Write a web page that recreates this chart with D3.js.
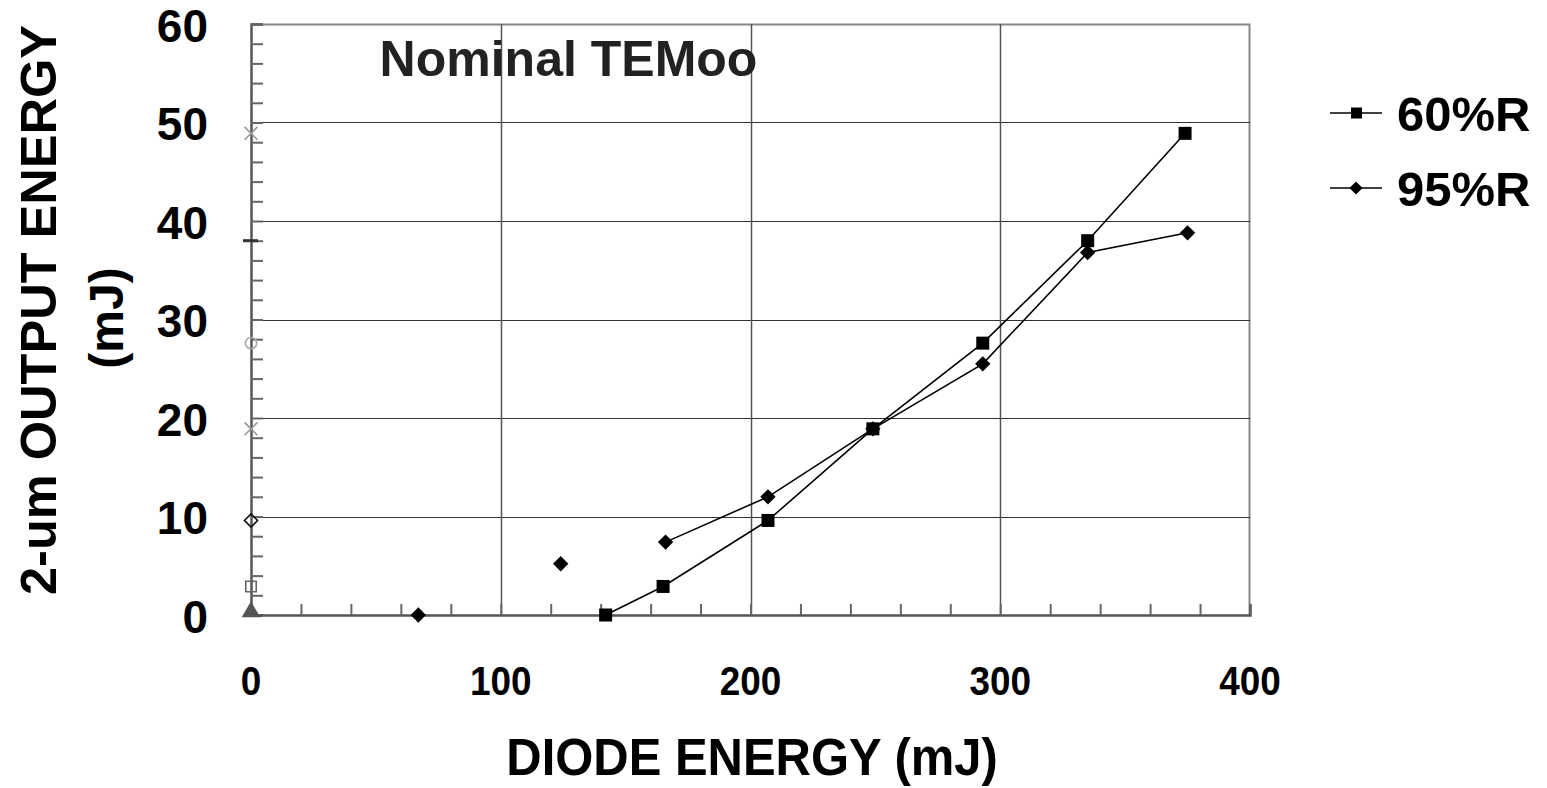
<!DOCTYPE html>
<html>
<head>
<meta charset="utf-8">
<script src="https://cdn.jsdelivr.net/npm/d3@7"></script>
<style>
  body { margin: 0; background: #fff; }
  text { font-family: "Liberation Sans", Arial, sans-serif; font-weight: bold; }
</style>
</head>
<body>
<div id="chart"></div>
<script>
// diode energy (mJ) and 2-um output energy (mJ)
var x60 = [142, 165, 207, 249, 293, 335, 374];
var y60 = [0, 2.9, 9.6, 18.9, 27.6, 38.0, 48.9];
// the 95% series is not joined over its first two points (null = break)
var x95 = [67, null, 124, null, 166, 207, 249, 293, 335, 375];
var y95 = [0, null, 5.2, null, 7.4, 12.0, 18.9, 25.5, 36.8, 38.8];
// stray markers sitting on the y axis (x = 0)
var axisY = [0, 2.9, 9.6, 18.9, 27.6, 38.0, 48.9];
var axisSym = ["triangle", "square", "diamond", "cross", "circle", "dash", "cross"];
var xTicks = [0, 100, 200, 300, 400];
var yTicks = [0, 10, 20, 30, 40, 50, 60];
var seriesNames = ["60%R", "95%R"];

var W = 1547, H = 788;
var margin = {top: 24, right: 297, bottom: 173, left: 251};
var width = W - margin.left - margin.right;
var height = H - margin.top - margin.bottom;

var x = d3.scaleLinear().domain([0, 400]).range([0, width]);
var y = d3.scaleLinear().domain([0, 60]).range([height, 0]);

var svg = d3.select("#chart").append("svg")
    .attr("width", W)
    .attr("height", H);
var g = svg.append("g")
    .attr("transform", "translate(" + margin.left + "," + margin.top + ")");

// frame top/right
g.append("path")
    .attr("d", "M0,0.5H" + (width - 0.5) + "V" + height)
    .attr("fill", "none").attr("stroke", "#888").attr("stroke-width", 2);

// gridlines
g.append("g").selectAll("line")
    .data(yTicks.slice(1, -1))
    .enter().append("line")
    .attr("x1", 0).attr("x2", width)
    .attr("y1", function (d) { return Math.round(y(d)) + 0.5; })
    .attr("y2", function (d) { return Math.round(y(d)) + 0.5; })
    .attr("stroke", "#333").attr("stroke-width", 1.2);
g.append("g").selectAll("line")
    .data(xTicks.slice(1, -1))
    .enter().append("line")
    .attr("y1", 0).attr("y2", height)
    .attr("x1", function (d) { return Math.round(x(d)) + 0.5; })
    .attr("x2", function (d) { return Math.round(x(d)) + 0.5; })
    .attr("stroke", "#555").attr("stroke-width", 1.5);

// axes with minor ticks pointing inside
var yMinor = d3.range(0, 61, 2);
var xMinor = d3.range(0, 401, 20);
var yAxis = g.append("g")
    .call(d3.axisRight(y).tickValues(yMinor).tickSize(12).tickFormat(""));
var xAxis = g.append("g")
    .attr("transform", "translate(0," + height + ")")
    .call(d3.axisTop(x).tickValues(xMinor).tickSize(11).tickFormat(""));
[yAxis, xAxis].forEach(function (a) {
  a.select(".domain").attr("stroke", "#555").attr("stroke-width", 2.5);
  a.selectAll(".tick line").attr("stroke", "#666").attr("stroke-width", 2);
});

// tick labels
g.append("g").selectAll("text")
    .data(yTicks)
    .enter().append("text")
    .attr("x", -43)
    .attr("y", function (d) { return y(d) + 1; })
    .attr("dy", "0.36em")
    .attr("text-anchor", "end")
    .attr("font-size", 46)
    .text(function (d) { return d; });
// narrow bold labels: squeeze horizontally
g.append("g").selectAll("text")
    .data(xTicks)
    .enter().append("text")
    .attr("transform", function (d) { return "translate(" + x(d) + "," + (height + 65) + ") scale(0.9,1)"; })
    .attr("dy", "0.36em")
    .attr("text-anchor", "middle")
    .attr("font-size", 41)
    .text(function (d) { return d; });

// axis titles
svg.append("text")
    .attr("transform", "translate(752,757) scale(0.96,1)")
    .attr("dy", "0.36em")
    .attr("text-anchor", "middle")
    .attr("font-size", 51)
    .text("DIODE ENERGY (mJ)");
svg.append("text")
    .attr("transform", "translate(38,310) rotate(-90)")
    .attr("dy", "0.36em")
    .attr("text-anchor", "middle")
    .attr("font-size", 50)
    .attr("textLength", 570)
    .attr("lengthAdjust", "spacingAndGlyphs")
    .text("2-um OUTPUT ENERGY");
svg.append("text")
    .attr("transform", "translate(106,318) rotate(-90)")
    .attr("dy", "0.36em")
    .attr("text-anchor", "middle")
    .attr("font-size", 48)
    .text("(mJ)");

// inner label
g.append("text")
    .attr("x", x(51.5)).attr("y", 34)
    .attr("dy", "0.36em")
    .attr("font-size", 50)
    .attr("fill", "#222")
    .text("Nominal TEMoo");

// stray axis markers
var symMap = {triangle: d3.symbolTriangle, square: d3.symbolSquare, diamond: d3.symbolDiamond2,
              cross: d3.symbolX, circle: d3.symbolCircle};
var symStyle = {
  triangle: {fill: "#555", stroke: "none", size: 150},
  square: {fill: "none", stroke: "#666", size: 110},
  diamond: {fill: "none", stroke: "#111", size: 110},
  cross: {fill: "none", stroke: "#999", size: 110},
  circle: {fill: "none", stroke: "#aaa", size: 100}
};
axisY.forEach(function (v, i) {
  var s = axisSym[i];
  if (s === "dash") {
    g.append("line")
      .attr("x1", x(0) - 8).attr("x2", x(0) + 7)
      .attr("y1", y(v)).attr("y2", y(v))
      .attr("stroke", "#333").attr("stroke-width", 3);
    return;
  }
  var st = symStyle[s];
  g.append("path")
    .attr("d", d3.symbol().type(symMap[s]).size(st.size)())
    .attr("transform", "translate(" + x(0) + "," + (y(v) - (s === "triangle" ? 3 : 0)) + ")")
    .attr("fill", st.fill).attr("stroke", st.stroke).attr("stroke-width", 1.6);
});

// series
var lineGen = d3.line()
    .defined(function (d) { return d[0] !== null; })
    .x(function (d) { return x(d[0]); })
    .y(function (d) { return y(d[1]); });

var pts60 = x60.map(function (v, i) { return [v, y60[i]]; });
var pts95 = x95.map(function (v, i) { return [v, y95[i]]; });

g.append("path").datum(pts60).attr("d", lineGen)
    .attr("fill", "none").attr("stroke", "#000").attr("stroke-width", 1.6);
g.append("path").datum(pts95).attr("d", lineGen)
    .attr("fill", "none").attr("stroke", "#000").attr("stroke-width", 1.6);

g.selectAll(".sq").data(pts60).enter().append("rect")
    .attr("x", function (d) { return x(d[0]) - 6.5; })
    .attr("y", function (d) { return y(d[1]) - 6.5; })
    .attr("width", 13).attr("height", 13).attr("fill", "#000");
g.selectAll(".dm").data(pts95.filter(function (d) { return d[0] !== null; })).enter().append("path")
    .attr("d", d3.symbol().type(d3.symbolDiamond2).size(150)())
    .attr("transform", function (d) { return "translate(" + x(d[0]) + "," + y(d[1]) + ")"; })
    .attr("fill", "#000");

// legend
var legend = svg.append("g").attr("transform", "translate(1330,0)");
seriesNames.forEach(function (name, i) {
  var ly = 113 + i * 75;
  legend.append("line").attr("x1", 0).attr("x2", 52).attr("y1", ly).attr("y2", ly)
    .attr("stroke", "#000").attr("stroke-width", 1.6);
  if (i === 0) {
    legend.append("rect").attr("x", 21).attr("y", ly - 5.5).attr("width", 11).attr("height", 11).attr("fill", "#000");
  } else {
    legend.append("path").attr("d", d3.symbol().type(d3.symbolDiamond2).size(110)())
      .attr("transform", "translate(26," + ly + ")").attr("fill", "#000");
  }
  legend.append("text").attr("x", 67).attr("y", ly).attr("dy", "0.36em")
    .attr("font-size", 49).text(name);
});
</script>
</body>
</html>
